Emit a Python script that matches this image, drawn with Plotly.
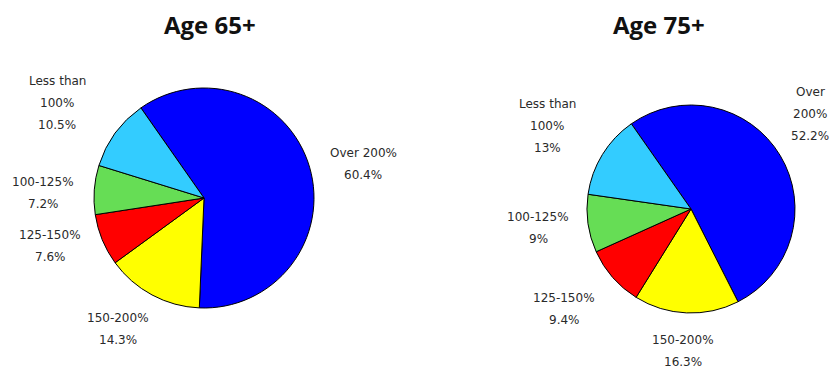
import plotly.graph_objects as go

categories = ["Over 200%", "150-200%", "125-150%", "100-125%", "Less than 100%"]
values_65 = [60.4, 14.3, 7.6, 7.2, 10.5]
values_75 = [52.2, 16.3, 9.4, 9, 13]
value_labels_65 = ["60.4%", "14.3%", "7.6%", "7.2%", "10.5%"]
value_labels_75 = ["52.2%", "16.3%", "9.4%", "9%", "13%"]
titles = ["Age 65+", "Age 75+"]

# category label line breaks per chart
cat_lines_65 = [["Over 200%"], ["150-200%"], ["125-150%"], ["100-125%"], ["Less than", "100%"]]
cat_lines_75 = [["Over", "200%"], ["150-200%"], ["125-150%"], ["100-125%"], ["Less than", "100%"]]

colors = ["#0000FF", "#FFFF00", "#FF0000", "#66DD55", "#33CCFF"]

W, H = 831, 371

# layout: pixel positions for label blocks (center x, first line y)
label_pos_65 = [(363, 153), (118, 318), (50, 235), (43, 182), (57, 81)]
label_pos_75 = [(810, 92), (683, 340), (564, 298), (538, 217), (547, 104)]
line_gap = 22

fig = go.Figure()

def px_dom(x0, x1, y0, y1):
    return dict(x=[x0 / W, x1 / W], y=[1 - y1 / H, 1 - y0 / H])

for vals, dom in [(values_65, px_dom(94, 314, 88, 308)), (values_75, px_dom(587, 795, 105, 313))]:
    fig.add_trace(go.Pie(
        labels=categories, values=vals, sort=False, direction="clockwise",
        rotation=-35, domain=dom, textinfo="none", hoverinfo="label+percent",
        marker=dict(colors=colors, line=dict(color="#000000", width=1)),
        showlegend=False,
    ))

annotations = []
font_lab = dict(family="DejaVu Sans", size=12, color="#2a2a2a")
for lines_list, vlabels, positions in [(cat_lines_65, value_labels_65, label_pos_65),
                                       (cat_lines_75, value_labels_75, label_pos_75)]:
    for lines, vl, (cx, cy) in zip(lines_list, vlabels, positions):
        for i, t in enumerate(lines + [vl]):
            annotations.append(dict(
                x=cx / W, y=1 - (cy + i * line_gap) / H, xref="paper", yref="paper",
                text=t, showarrow=False, xanchor="center", yanchor="middle", font=font_lab,
            ))

for t, cx in zip(titles, [210, 659]):
    annotations.append(dict(
        x=cx / W, y=1 - 25 / H, xref="paper", yref="paper", text="<b>%s</b>" % t,
        showarrow=False, xanchor="center", yanchor="middle",
        font=dict(family="Open Sans", size=24, color="#111111"),
    ))

fig.update_layout(
    width=W, height=H, margin=dict(l=0, r=0, t=0, b=0),
    paper_bgcolor="white", plot_bgcolor="white", annotations=annotations,
)

fig.write_html("out.html")
